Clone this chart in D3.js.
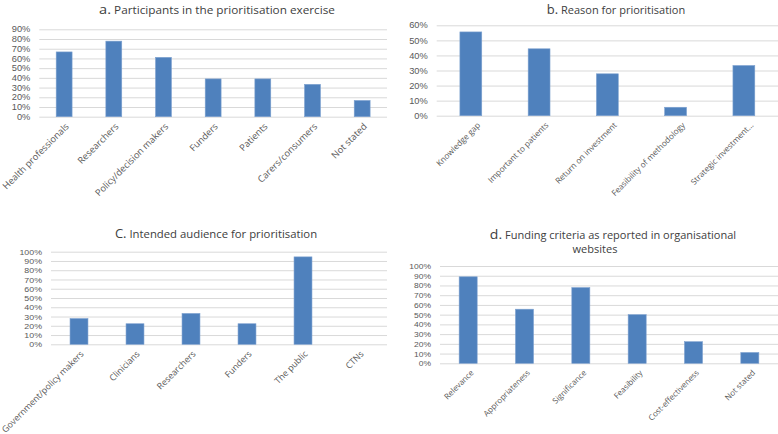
<!DOCTYPE html>
<html><head><meta charset="utf-8">
<script src="https://cdn.jsdelivr.net/npm/d3@7"></script>
<style>
html,body{margin:0;padding:0;background:#fff;}
svg{display:block;font-family:"Open Sans",sans-serif;}
</style></head>
<body><svg id="c" width="778" height="434"></svg>
<script>
// ---- data ----
const aCategories = ["Health professionals","Researchers","Policy/decision makers","Funders","Patients","Carers/consumers","Not stated"];
const aValues = [66.7, 77.8, 61.1, 38.9, 38.9, 33.3, 16.7];
const aTicks = [0,10,20,30,40,50,60,70,80,90];

const bCategories = ["Knowledge gap","Important to patients","Return on investment","Feasibility of methodology","Strategic investment…"];
const bValues = [55.6, 44.4, 27.8, 5.6, 33.3];
const bTicks = [0,10,20,30,40,50,60];

const cCategories = ["Government/policy makers","Clinicians","Researchers","Funders","The public","CTNs"];
const cValues = [27.8, 22.2, 33.3, 22.2, 94.4, 0];
const cTicks = [0,10,20,30,40,50,60,70,80,90,100];

const dCategories = ["Relevance","Appropriateness","Significance","Feasibility","Cost-effectiveness","Not stated"];
const dValues = [88.9, 55.6, 77.8, 50.0, 22.2, 11.1];
const dTicks = [0,10,20,30,40,50,60,70,80,90,100];

const titleA = ["a.", " Participants in the prioritisation exercise"];
const titleB = ["b.", " Reason for prioritisation"];
const titleC = ["C.", " Intended audience for prioritisation"];
const titleD = ["d.", " Funding criteria as reported in organisational", "websites"];

// ---- drawing ----
const svg = d3.select("#c");
const BAR = "#4f81bd", GRID = "#d9d9d9", TXT = "#595959", TTL = "#404040";
const SX = 1.12; // horizontal stretch of the reference's text

function panel(o){
  const g = svg.append("g");
  const x = d3.scaleBand().domain(o.cats).range([o.x0, o.x1]).paddingInner(0.68).paddingOuter(0.34);
  const y = d3.scaleLinear().domain([0, d3.max(o.ticks)]).range([o.y0, o.yTop]);
  // gridlines + tick labels via axis
  const ax = d3.axisLeft(y).tickValues(o.ticks).tickFormat(d => d + "%").tickSize(-(o.x1 - o.x0)).tickPadding(8);
  const ag = g.append("g").attr("transform", `translate(${o.x0},0)`).call(ax);
  ag.select(".domain").remove();
  ag.selectAll(".tick line").attr("stroke", GRID).attr("stroke-width", 1);
  ag.selectAll(".tick text").attr("fill", TXT).attr("transform", `scale(${SX},1)`)
    .style("font-size", o.tickFs + "px").style("font-family", "'Liberation Sans',Arial,sans-serif");
  // bars
  g.selectAll("rect.bar").data(o.vals.map((v,i)=>({c:o.cats[i], v})).filter(d => d.v > 0))
    .enter().append("rect").attr("class","bar")
    .attr("x", d => x(d.c)).attr("width", x.bandwidth())
    .attr("y", d => y(d.v)).attr("height", d => y(0) - y(d.v))
    .attr("fill", BAR).attr("stroke", "#7da1cf").attr("stroke-width", 0.6);
  // category labels
  g.selectAll("text.cat").data(o.cats).enter().append("text").attr("class","cat")
    .attr("transform", d => `translate(${x(d) + x.bandwidth()/2 + o.ldx},${o.y0 + o.ldy}) rotate(-45)`)
    .attr("text-anchor","end").attr("dy","0.35em")
    .attr("fill", TXT).style("font-size", o.catFs + "px")
    .text(d => d);
  // title
  const tg = g.append("g").attr("transform", `translate(${o.tx},${o.ty}) scale(1.08,1)`);
  const t = tg.append("text").attr("text-anchor","middle").attr("fill", TTL).style("font-size", o.titleFs + "px");
  t.append("tspan").style("font-size", o.prefFs + "px").text(o.title[0]);
  t.append("tspan").text(o.title[1]);
  if (o.title[2]) {
    g.append("g").attr("transform", `translate(${o.tx2},${o.ty2}) scale(1.08,1)`)
      .append("text").attr("text-anchor","middle").attr("fill", TTL)
      .style("font-size", o.titleFs + "px").text(o.title[2]);
  }
}

panel({cats:aCategories, vals:aValues, ticks:aTicks, x0:39.3, x1:387, yTop:29.3, y0:116.7,
  tickFs:8.3, catFs:9.3, ldx:3, ldy:8, title:titleA, tx:217, ty:14, titleFs:10.9, prefFs:13.5});
panel({cats:bCategories, vals:bValues, ticks:bTicks, x0:436.7, x1:778, yTop:25.3, y0:115.7,
  tickFs:8.3, catFs:8.2, ldx:8, ldy:8, title:titleB, tx:616, ty:14, titleFs:10.2, prefFs:12});
panel({cats:cCategories, vals:cValues, ticks:cTicks, x0:51, x1:387, yTop:251.7, y0:344.3,
  tickFs:7.9, catFs:8.8, ldx:3, ldy:8, title:titleC, tx:216, ty:237.5, titleFs:10.5, prefFs:12});
panel({cats:dCategories, vals:dValues, ticks:dTicks, x0:440, x1:778, yTop:266, y0:363.3,
  tickFs:7.6, catFs:8.0, ldx:4, ldy:8, title:titleD, tx:613, ty:238.5, tx2:595, ty2:252.5, titleFs:10.2, prefFs:13});
</script></body></html>
